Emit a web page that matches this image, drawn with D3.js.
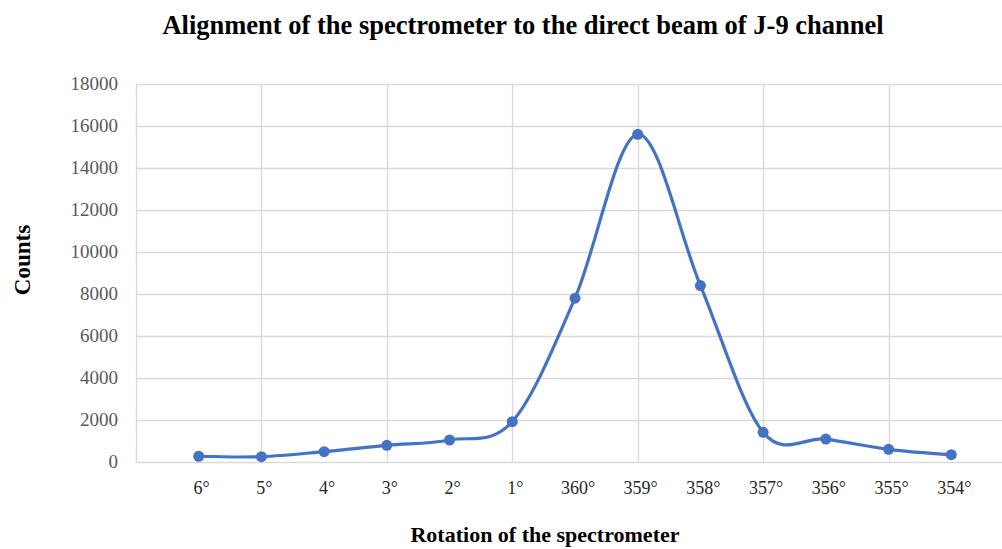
<!DOCTYPE html>
<html>
<head>
<meta charset="utf-8">
<script src="https://cdn.jsdelivr.net/npm/d3@7"></script>
<style>
  html, body { margin: 0; padding: 0; background: #fff; }
  svg { display: block; }
</style>
</head>
<body>
<svg id="chart" width="1002" height="549"></svg>
<script>
// ---- data ----
const categories = ["6°", "5°", "4°", "3°", "2°", "1°", "360°", "359°", "358°", "357°", "356°", "355°", "354°"];
const counts = [250, 230, 470, 770, 1025, 1900, 7790, 15600, 8390, 1390, 1070, 580, 325];
const yTicks = [0, 2000, 4000, 6000, 8000, 10000, 12000, 14000, 16000, 18000];
const xGridTicks = [0, 2, 4, 6, 8, 10, 12, 14];

const W = 1002, H = 549;
const svg = d3.select("#chart");

const x = d3.scaleLinear().domain([0, 14]).range([136, 1014]);
const y = d3.scaleLinear().domain([0, 18000]).range([461.5, 84]);

const serif = "'Liberation Serif', 'Times New Roman', serif";

// gridlines
const g = svg.append("g");
g.selectAll(".hgrid").data(yTicks).join("line")
  .attr("x1", x(0)).attr("x2", W)
  .attr("y1", d => Math.round(y(d)) + 0.5).attr("y2", d => Math.round(y(d)) + 0.5)
  .attr("stroke", "#d9d9d9").attr("stroke-width", 1.3);
g.selectAll(".vgrid").data(xGridTicks).join("line")
  .attr("x1", d => Math.round(x(d)) + 0.5).attr("x2", d => Math.round(x(d)) + 0.5)
  .attr("y1", y(18000)).attr("y2", y(0))
  .attr("stroke", "#d9d9d9").attr("stroke-width", 1.3);

// y tick labels
svg.append("g").selectAll("text").data(yTicks).join("text")
  .attr("x", 118).attr("y", d => y(d))
  .attr("dy", "0.33em")
  .attr("text-anchor", "end")
  .attr("font-family", serif).attr("font-size", 19)
  .attr("fill", "#595959")
  .text(d => d);

// x tick labels
svg.append("g").selectAll("text").data(categories).join("text")
  .attr("x", (d, i) => x(i + 1) + 3).attr("y", 494)
  .attr("text-anchor", "middle")
  .attr("font-family", serif).attr("font-size", 18)
  .attr("fill", "#262626")
  .text(d => d);

// line
const pts = counts.map((v, i) => [x(i + 1), y(v)]);
svg.append("path")
  .attr("d", d3.line().curve(d3.curveCardinal.tension(0))(pts))
  .attr("fill", "none")
  .attr("stroke", "#4472c4")
  .attr("stroke-width", 3.2)
  .attr("stroke-linecap", "round");

svg.append("g").selectAll("circle").data(counts).join("circle")
  .attr("cx", (d, i) => x(i + 1)).attr("cy", d => y(d))
  .attr("r", 5.5)
  .attr("fill", "#4472c4");

// titles
svg.append("text")
  .attr("x", 523).attr("y", 34)
  .attr("text-anchor", "middle")
  .attr("font-family", serif).attr("font-weight", "bold").attr("font-size", 26.5)
  .attr("fill", "#000")
  .text("Alignment of the spectrometer to the direct beam of J-9 channel");

svg.append("text")
  .attr("x", 545).attr("y", 542)
  .attr("text-anchor", "middle")
  .attr("font-family", serif).attr("font-weight", "bold").attr("font-size", 22)
  .attr("fill", "#000")
  .text("Rotation of the spectrometer");

svg.append("text")
  .attr("transform", "translate(30,260) rotate(-90)")
  .attr("text-anchor", "middle")
  .attr("font-family", serif).attr("font-weight", "bold").attr("font-size", 23)
  .attr("fill", "#000")
  .text("Counts");
</script>
</body>
</html>
